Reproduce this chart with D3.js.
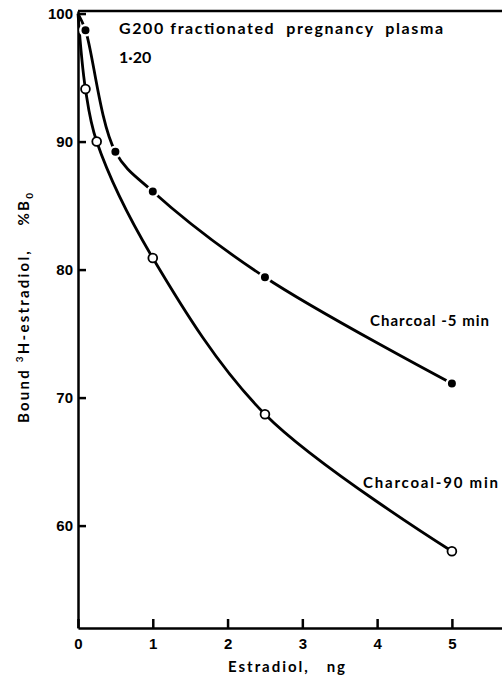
<!DOCTYPE html>
<html>
<head>
<meta charset="utf-8">
<script src="https://cdn.jsdelivr.net/npm/d3@7"></script>
<style>
  body { margin: 0; background: #fff; }
  svg { display: block; font-family: "Lato", "Noto Sans", sans-serif; }
  svg text { white-space: pre; }
  .axis path, .axis line { stroke: #000; stroke-width: 2.5; }
  .axis text { font-size: 15px; fill: #000; font-weight: bold; }
</style>
</head>
<body>
<div class="chart"></div>
<script>
// data
const dose5 = [0, 0.1, 0.5, 1, 2.5, 5];
const bound5 = [100, 98.7, 89.2, 86.1, 79.4, 71.1];
const dose90 = [0, 0.1, 0.25, 1, 2.5, 5];
const bound90 = [100, 94.1, 90.0, 80.9, 68.7, 58.0];
const xTicks = [0, 1, 2, 3, 4, 5];
const yTicks = [60, 70, 80, 90, 100];

const margin = ({top: 11, right: 0, bottom: 48, left: 78});
const width = 502 - margin.left - margin.right;
const height = 676 - margin.top - margin.bottom;

const svg = d3.select('.chart').append('svg')
	.attr('width', 502)
	.attr('height', 676)
	.append('g')
	.attr('transform', 'translate(' + margin.left + ',' + margin.top + ')');

const xScale = d3.scaleLinear()
	.domain([0, 5.67])
	.range([0, width]);

const yScale = d3.scaleLinear()
	.domain([52, 100.2])
	.range([height, 0]);

const xAxis = d3.axisBottom()
	.scale(xScale)
	.tickValues(xTicks)
	.tickSizeInner(-9)
	.tickSizeOuter(0)
	.tickPadding(5)
	.tickFormat(d3.format('d'));

const yAxis = d3.axisLeft()
	.scale(yScale)
	.tickValues(yTicks)
	.tickSizeInner(-8)
	.tickSizeOuter(0)
	.tickPadding(5)
	.tickFormat(d3.format('d'));

svg.append('g')
	.attr('class', 'axis x-axis')
	.attr('transform', `translate(0, ${height})`)
	.call(xAxis)
	.selectAll('text')
	.attr('dy', '1.05em');

svg.append('g')
	.attr('class', 'axis y-axis')
	.call(yAxis)
	.selectAll('text')
	.attr('dy', '0.36em');

// top frame line
svg.append('line')
	.attr('x1', 0)
	.attr('x2', width)
	.attr('y1', 0)
	.attr('y2', 0)
	.style('stroke', '#000')
	.style('stroke-width', 2.5);

const line = d3.line()
	.x(d => xScale(d[0]))
	.y(d => yScale(d[1]))
	.curve(d3.curveCatmullRom.alpha(0.5));

const pts5 = dose5.map((d, i) => [d, bound5[i]]);
const pts90 = dose90.map((d, i) => [d, bound90[i]]);

svg.append('path')
	.datum(pts5)
	.attr('d', line)
	.style('fill', 'none')
	.style('stroke', '#000')
	.style('stroke-width', 2.8);

svg.append('path')
	.datum(pts90)
	.attr('d', line)
	.style('fill', 'none')
	.style('stroke', '#000')
	.style('stroke-width', 2.8);

// filled dots with a white gap round them
svg.selectAll('.dot5')
	.data(pts5.slice(1))
	.enter()
	.append('circle')
	.attr('class', 'dot5')
	.attr('cx', d => xScale(d[0]))
	.attr('cy', d => yScale(d[1]))
	.attr('r', 5.2)
	.style('fill', '#000')
	.style('stroke', '#fff')
	.style('stroke-width', 2.4);

svg.selectAll('.dot90')
	.data(pts90.slice(1))
	.enter()
	.append('circle')
	.attr('class', 'dot90')
	.attr('cx', d => xScale(d[0]))
	.attr('cy', d => yScale(d[1]))
	.attr('r', 4.4)
	.style('fill', '#fff')
	.style('stroke', '#000')
	.style('stroke-width', 1.8);

// labels
svg.append('text')
	.attr('x', 41)
	.attr('y', 23)
	.attr('font-size', '16px')
	.attr('font-weight', 'bold')
	.attr('textLength', 324)
	.attr('lengthAdjust', 'spacing')
	.text('G200 fractionated  pregnancy  plasma');

svg.append('text')
	.attr('x', 41)
	.attr('y', 52)
	.attr('font-size', '16px')
	.attr('font-weight', 'bold')
	.text('1·20');

svg.append('text')
	.attr('x', 292)
	.attr('y', 315)
	.attr('font-size', '15px')
	.attr('font-weight', 'bold')
	.attr('textLength', 119)
	.attr('lengthAdjust', 'spacing')
	.text('Charcoal -5 min');

svg.append('text')
	.attr('x', 285)
	.attr('y', 477)
	.attr('font-size', '15px')
	.attr('font-weight', 'bold')
	.attr('textLength', 135)
	.attr('lengthAdjust', 'spacing')
	.text('Charcoal-90 min');

svg.append('text')
	.attr('x', 150)
	.attr('y', height + 44)
	.attr('font-size', '15px')
	.attr('font-weight', 'bold')
	.attr('textLength', 117)
	.attr('lengthAdjust', 'spacing')
	.text('Estradiol,   ng');

const yTitle = svg.append('text')
	.attr('transform', `translate(-49, ${423 - margin.top}) rotate(-90)`)
	.attr('font-size', '15px')
	.attr('font-weight', 'bold')
	.attr('textLength', 230)
	.attr('lengthAdjust', 'spacing');
yTitle.append('tspan').text('Bound ');
yTitle.append('tspan').attr('font-size', '10px').attr('dy', -6).text('3');
yTitle.append('tspan').attr('dy', 6).text('H-estradiol,    %B');
yTitle.append('tspan').attr('font-size', '10px').attr('dy', 4).text('0');
</script>
</body>
</html>
